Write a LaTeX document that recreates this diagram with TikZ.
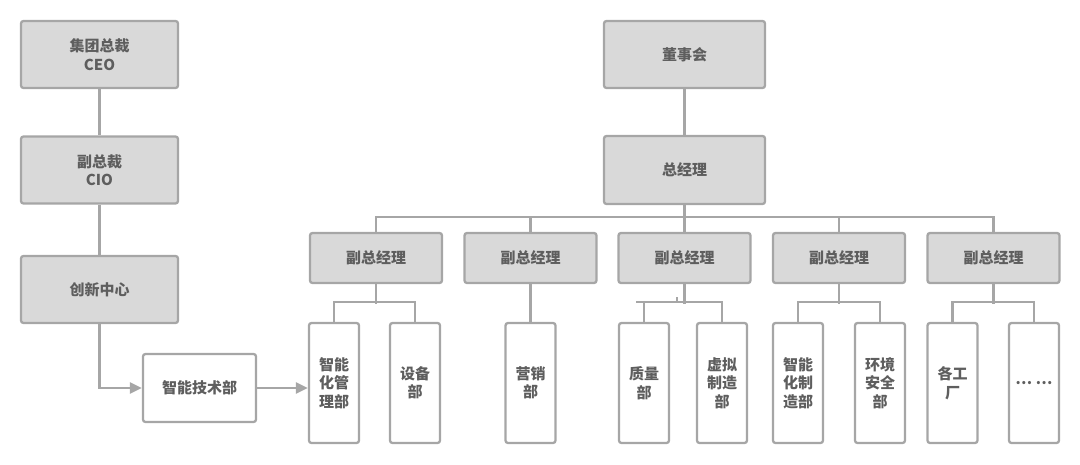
\documentclass[tikz,border=0pt]{standalone}
\usepackage{fontspec}
\setmainfont{Noto Sans CJK SC}
\usetikzlibrary{arrows.meta}
\definecolor{lc}{HTML}{A6A6A6}
\definecolor{gf}{HTML}{D9D9D9}
\definecolor{tc}{HTML}{5E5E5E}
\begin{document}
\begin{tikzpicture}[x=1pt,y=-1pt,
  box/.style={draw=lc,fill=gf,line width=2.3pt,rounded corners=2.5pt,inner sep=0pt,align=center,
    text=tc,font=\fontsize{15}{18.5}\selectfont\bfseries},
  wbox/.style={box,fill=white},
  big/.style={box,minimum width=157pt,minimum height=67pt},
  vp/.style={box,minimum width=132pt,minimum height=50pt},
  kid/.style={wbox,minimum width=50pt,minimum height=120pt},
  conn/.style={draw=lc,line width=2.3pt},
  arr/.style={conn,-{Triangle[length=12pt,width=11pt]}}]
\useasboundingbox (0,0) rectangle (1080,464);
\node[big] (ceo) at (99.5,54.5) {集团总裁\\CEO};
\node[big] (cio) at (99.5,170) {副总裁\\CIO};
\node[big] (cx) at (99.5,289.5) {创新中心};
\node[wbox,minimum width=113pt,minimum height=68pt] (zn) at (199.5,388) {智能技术部};
\node[box,minimum width=161pt,minimum height=67pt] (board) at (684.5,54.5) {董事会};
\node[box,minimum width=161pt,minimum height=68pt] (gm) at (684.5,170) {总经理};
\node[vp] (vp1) at (376,258) {副总经理};
\node[vp] (vp2) at (530.5,258) {副总经理};
\node[vp] (vp3) at (684.5,258) {副总经理};
\node[vp] (vp4) at (839,258) {副总经理};
\node[vp] (vp5) at (993.5,258) {副总经理};
\node[kid] (c1) at (334,383) {智能\\化管\\理部};
\node[kid] (c2) at (415,383) {设备\\部};
\node[kid] (c3) at (530.5,383) {营销\\部};
\node[kid] (c4) at (644,383) {质量\\部};
\node[kid] (c5) at (722,383) {虚拟\\制造\\部};
\node[kid] (c6) at (798,383) {智能\\化制\\造部};
\node[kid] (c7) at (880,383) {环境\\安全\\部};
\node[kid] (c8) at (952.5,383) {各工\\厂};
\node[kid] (c9) at (1034,383) {… …};
% left chain
\draw[conn] (ceo.south) -- (cio.north);
\draw[conn] (cio.south) -- (cx.north);
\draw[arr] (cx.south) |- (zn.west);
\draw[arr] (zn.east) -- (c1.west |- zn.east);
% right tree
\draw[conn] (board.south) -- (gm.north);
\draw[conn] (gm.south) -- (vp3.north);
\draw[conn] (vp1.north) -- ++(0,-15) -| (vp5.north);
\draw[conn] (vp2.north) -- ++(0,-15);
\draw[conn] (vp4.north) -- ++(0,-15);
% branches
\draw[conn] (vp1.south) -- ++(0,20);
\draw[conn] (c1.north) -- ++(0,-20) -| (c2.north);
\draw[conn] (vp2.south) -- (c3.north);
\draw[conn] (vp3.south) -- ++(0,20);
\draw[conn] (c4.north) -- ++(0,-20) coordinate (b4);
\draw[conn] ([xshift=-8pt]b4) -| (c5.north);
\draw[draw=lc,line width=1.2pt] ([xshift=33pt]b4) -- ++(0,-5);
\draw[conn] (vp4.south) -- ++(0,20);
\draw[conn] (c6.north) -- ++(0,-20) -| (c7.north);
\draw[conn] (vp5.south) -- ++(0,20);
\draw[conn] (c8.north) -- ++(0,-20) -| (c9.north);
\end{tikzpicture}
\end{document}
